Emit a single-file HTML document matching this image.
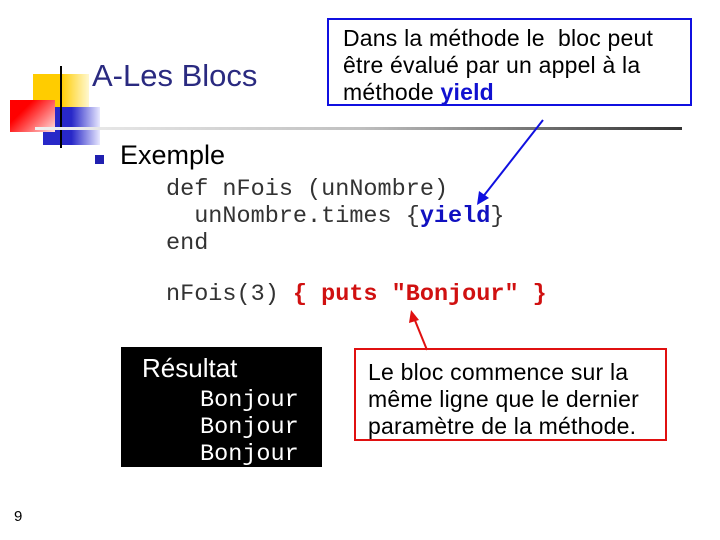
<!DOCTYPE html>
<html><head><meta charset="utf-8"><style>
body{margin:0;width:720px;height:540px;background:#fff;position:relative;overflow:hidden;font-family:"Liberation Sans",sans-serif}
.a{position:absolute;white-space:pre;line-height:1}
.m{font-family:"Liberation Mono",monospace;font-size:23.5px;color:#333}
.s{font-size:23px;color:#000;letter-spacing:0.2px}
</style></head><body>
<div class="a" style="left:33px;top:74px;width:56px;height:33px;background:linear-gradient(90deg,#ffcc00 50%,#fff8d0)"></div>
<div class="a" style="left:43px;top:107px;width:57px;height:38px;background:linear-gradient(90deg,#2828c8 50%,#e8e8ff)"></div>
<div class="a" style="left:10px;top:100px;width:45px;height:32px;background:linear-gradient(135deg,#ff0000 30%,#ffe0e0)"></div>
<div class="a" style="left:60px;top:66px;width:2px;height:82px;background:#000"></div>
<div class="a" style="left:35px;top:127px;width:647px;height:3px;background:linear-gradient(90deg,#f0f0f0,#c0c0c0 50%,#333)"></div>
<div class="a" style="left:92px;top:60px;font-size:31px;color:#2a2a80">A-Les Blocs</div>
<div class="a" style="left:95px;top:155px;width:9px;height:9px;background:#2020b0"></div>
<div class="a" style="left:120px;top:142px;font-size:27px;color:#000">Exemple</div>
<div class="a m" style="left:166px;top:178px">def nFois (unNombre)</div>
<div class="a m" style="left:166px;top:205px">  unNombre.times {<b style="color:#1010c0">yield</b>}</div>
<div class="a m" style="left:166px;top:232px">end</div>
<div class="a m" style="left:166px;top:283px">nFois(3) <b style="color:#d01010">{ puts "Bonjour" }</b></div>
<div class="a" style="left:121px;top:347px;width:201px;height:120px;background:#000"></div>
<div class="a" style="left:142px;top:355px;font-size:26px;color:#fff">Résultat</div>
<div class="a m" style="left:200px;top:389px;color:#fff">Bonjour</div>
<div class="a m" style="left:200px;top:416px;color:#fff">Bonjour</div>
<div class="a m" style="left:200px;top:443px;color:#fff">Bonjour</div>
<div class="a" style="left:327px;top:18px;width:361px;height:84px;border:2.5px solid #1010e0"></div>
<div class="a s" style="left:343px;top:25px;line-height:27px">Dans la méthode le  bloc peut
être évalué par un appel à la
méthode <b style="color:#1010d0">yield</b></div>
<div class="a" style="left:354px;top:348px;width:309px;height:89px;border:2.5px solid #e01010"></div>
<div class="a s" style="left:368px;top:359px;line-height:27px">Le bloc commence sur la
même ligne que le dernier
paramètre de la méthode.</div>
<svg class="a" style="left:0;top:0" width="720" height="540">
<line x1="543" y1="120" x2="482" y2="198" stroke="#1010e0" stroke-width="2"/>
<polygon points="477,205 479,191 489,198" fill="#1010e0"/>
<line x1="427" y1="350" x2="414" y2="318" stroke="#e01010" stroke-width="2"/>
<polygon points="411,310 409,323 419,320" fill="#e01010"/>
</svg>
<div class="a" style="left:14px;top:509px;font-size:15px;color:#000">9</div>
</body></html>
